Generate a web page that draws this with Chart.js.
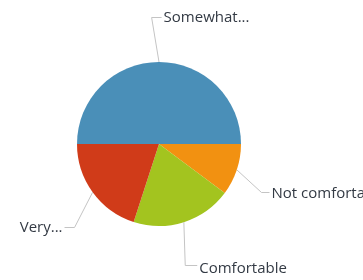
<!DOCTYPE html>
<html><head><meta charset="utf-8">
<script src="https://cdn.jsdelivr.net/npm/chart.js@4/dist/chart.umd.min.js"></script>
<style>html,body{margin:0;padding:0;background:#fff}#w{width:363px;height:280px}</style>
</head><body><div id="w"><canvas id="c"></canvas></div>
<script>
const categories = ["Somewhat...", "Not comfortable", "Comfortable", "Very..."];
const values = [50, 10.2, 19.8, 20];
const colors = ["#4a8fb8", "#f29111", "#a3c41f", "#d03b19"];
// leader elbow positions relative to pie center (units of radius), direction, horizontal length, text dy
const elbows = [[-0.09, -1.55, 1, 10, 0], [1.25, 0.59, 1, 8, 1], [0.32, 1.47, 1, 12, 3], [-1.03, 1.01, -1, 10, 0]];

const labelPlugin = {
  id: 'outLabels',
  afterDraw(chart) {
    const ctx = chart.ctx;
    const meta = chart.getDatasetMeta(0);
    ctx.save();
    ctx.font = '15px "Open Sans", sans-serif';
    ctx.textBaseline = 'middle';
    meta.data.forEach((arc, i) => {
      const p = arc.getProps(['x','y','startAngle','endAngle','outerRadius'], true);
      const mid = (p.startAngle + p.endAngle) / 2;
      const sx = p.x + Math.cos(mid) * p.outerRadius;
      const sy = p.y + Math.sin(mid) * p.outerRadius;
      const ex = p.x + elbows[i][0] * p.outerRadius;
      const ey = Math.round(p.y + elbows[i][1] * p.outerRadius) + 0.5;
      const dir = elbows[i][2];
      const hx = ex + dir * elbows[i][3];
      ctx.strokeStyle = '#c4c4c4';
      ctx.lineWidth = 1;
      ctx.beginPath();
      ctx.moveTo(sx, sy); ctx.lineTo(ex, ey); ctx.lineTo(hx, ey);
      ctx.stroke();
      ctx.fillStyle = '#333a44';
      ctx.textAlign = dir > 0 ? 'left' : 'right';
      ctx.fillText(categories[i], hx + dir * 2, ey + elbows[i][4]);
    });
    ctx.restore();
  }
};

new Chart(document.getElementById('c'), {
  type: 'pie',
  data: { labels: categories, datasets: [{ data: values, backgroundColor: colors, borderWidth: 0 }] },
  options: {
    responsive: true, maintainAspectRatio: false, animation: false,
    rotation: -90,
    layout: { padding: { left: 77, right: 122, top: 62, bottom: 54 } },
    plugins: { legend: { display: false }, tooltip: { enabled: false } }
  },
  plugins: [labelPlugin]
});
</script></body></html>
